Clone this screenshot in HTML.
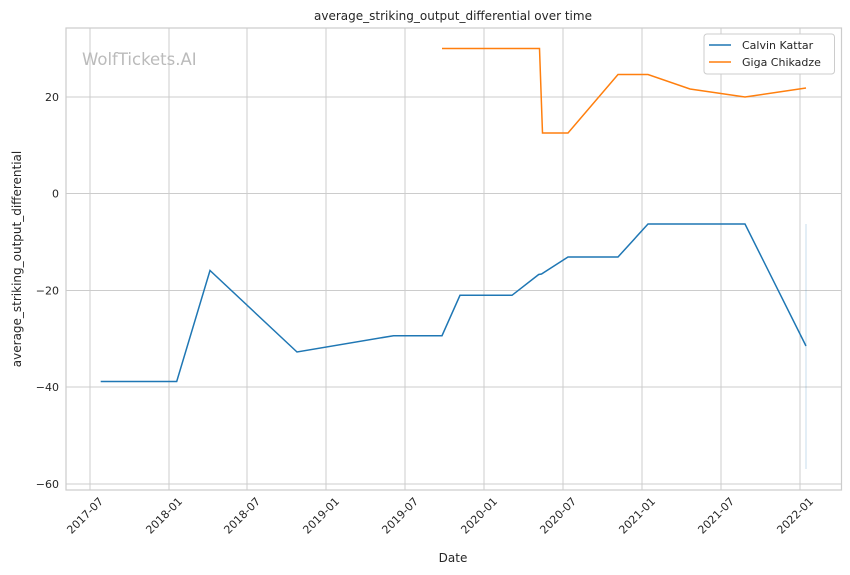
<!DOCTYPE html>
<html><head><meta charset="utf-8"><style>
html,body{margin:0;padding:0;background:#fff;}
svg{display:block;font-family:"DejaVu Sans","Liberation Sans",sans-serif;}
</style></head><body>
<svg width="850" height="575" viewBox="0 0 850 575" xmlns="http://www.w3.org/2000/svg">
<rect width="850" height="575" fill="#fff"/>
<g stroke="#cccccc" stroke-width="1">
<line x1="90" y1="28" x2="90" y2="490"/><line x1="169" y1="28" x2="169" y2="490"/><line x1="247" y1="28" x2="247" y2="490"/><line x1="326" y1="28" x2="326" y2="490"/><line x1="405" y1="28" x2="405" y2="490"/><line x1="484" y1="28" x2="484" y2="490"/><line x1="563" y1="28" x2="563" y2="490"/><line x1="642" y1="28" x2="642" y2="490"/><line x1="721" y1="28" x2="721" y2="490"/><line x1="800" y1="28" x2="800" y2="490"/>
<line x1="66" y1="97" x2="841" y2="97"/><line x1="66" y1="193.5" x2="841" y2="193.5"/><line x1="66" y1="290.5" x2="841" y2="290.5"/><line x1="66" y1="387" x2="841" y2="387"/><line x1="66" y1="484" x2="841" y2="484"/>
</g>
<rect x="66" y="28" width="775.5" height="462" fill="none" stroke="#cccccc" stroke-width="1.2"/>
<text x="82" y="65" font-size="16.5" fill="#bbbbbb">WolfTickets.AI</text>
<line x1="806" y1="224" x2="806" y2="469" stroke="#1f77b4" stroke-opacity="0.25" stroke-width="1"/>
<polyline fill="none" stroke="#1f77b4" stroke-width="1.5" points="100.7,381.5 176.7,381.5 210,270.5 297,352 393.5,335.7 442,335.7 460,295.3 512,295.3 538.7,274.5 541.5,274 568,257 618,257 648,224 745,224 806,346"/>
<polyline fill="none" stroke="#ff7f0e" stroke-width="1.5" points="442,48.5 539.5,48.5 542.5,133 568,133 618,74.5 648,74.5 690,89 745,97 806,88"/>
<g font-size="11" fill="#262626" text-anchor="end">
<text x="59" y="101">20</text><text x="59" y="197.5">0</text><text x="59" y="294.5">−20</text><text x="59" y="391">−40</text><text x="59" y="488">−60</text>
</g>
<g font-size="11" fill="#262626" text-anchor="end">
<text transform="translate(104,502) rotate(-45)">2017-07</text>
<text transform="translate(183,502) rotate(-45)">2018-01</text>
<text transform="translate(261,502) rotate(-45)">2018-07</text>
<text transform="translate(340,502) rotate(-45)">2019-01</text>
<text transform="translate(419,502) rotate(-45)">2019-07</text>
<text transform="translate(498,502) rotate(-45)">2020-01</text>
<text transform="translate(577,502) rotate(-45)">2020-07</text>
<text transform="translate(656,502) rotate(-45)">2021-01</text>
<text transform="translate(735,502) rotate(-45)">2021-07</text>
<text transform="translate(814,502) rotate(-45)">2022-01</text>
</g>
<text x="453" y="562" font-size="12" fill="#262626" text-anchor="middle">Date</text>
<text transform="translate(21,259) rotate(-90)" font-size="12" fill="#262626" text-anchor="middle">average_striking_output_differential</text>
<text x="453" y="20" font-size="12" fill="#262626" text-anchor="middle">average_striking_output_differential over time</text>
<rect x="704" y="34" width="130.5" height="40" rx="3" fill="#fff" stroke="#cccccc" stroke-width="1"/>
<line x1="709" y1="45" x2="731" y2="45" stroke="#1f77b4" stroke-width="1.5"/>
<line x1="709" y1="62" x2="731" y2="62" stroke="#ff7f0e" stroke-width="1.5"/>
<text x="742" y="49" font-size="11" fill="#262626">Calvin Kattar</text>
<text x="742" y="66" font-size="11" fill="#262626">Giga Chikadze</text>
</svg>
</body></html>
